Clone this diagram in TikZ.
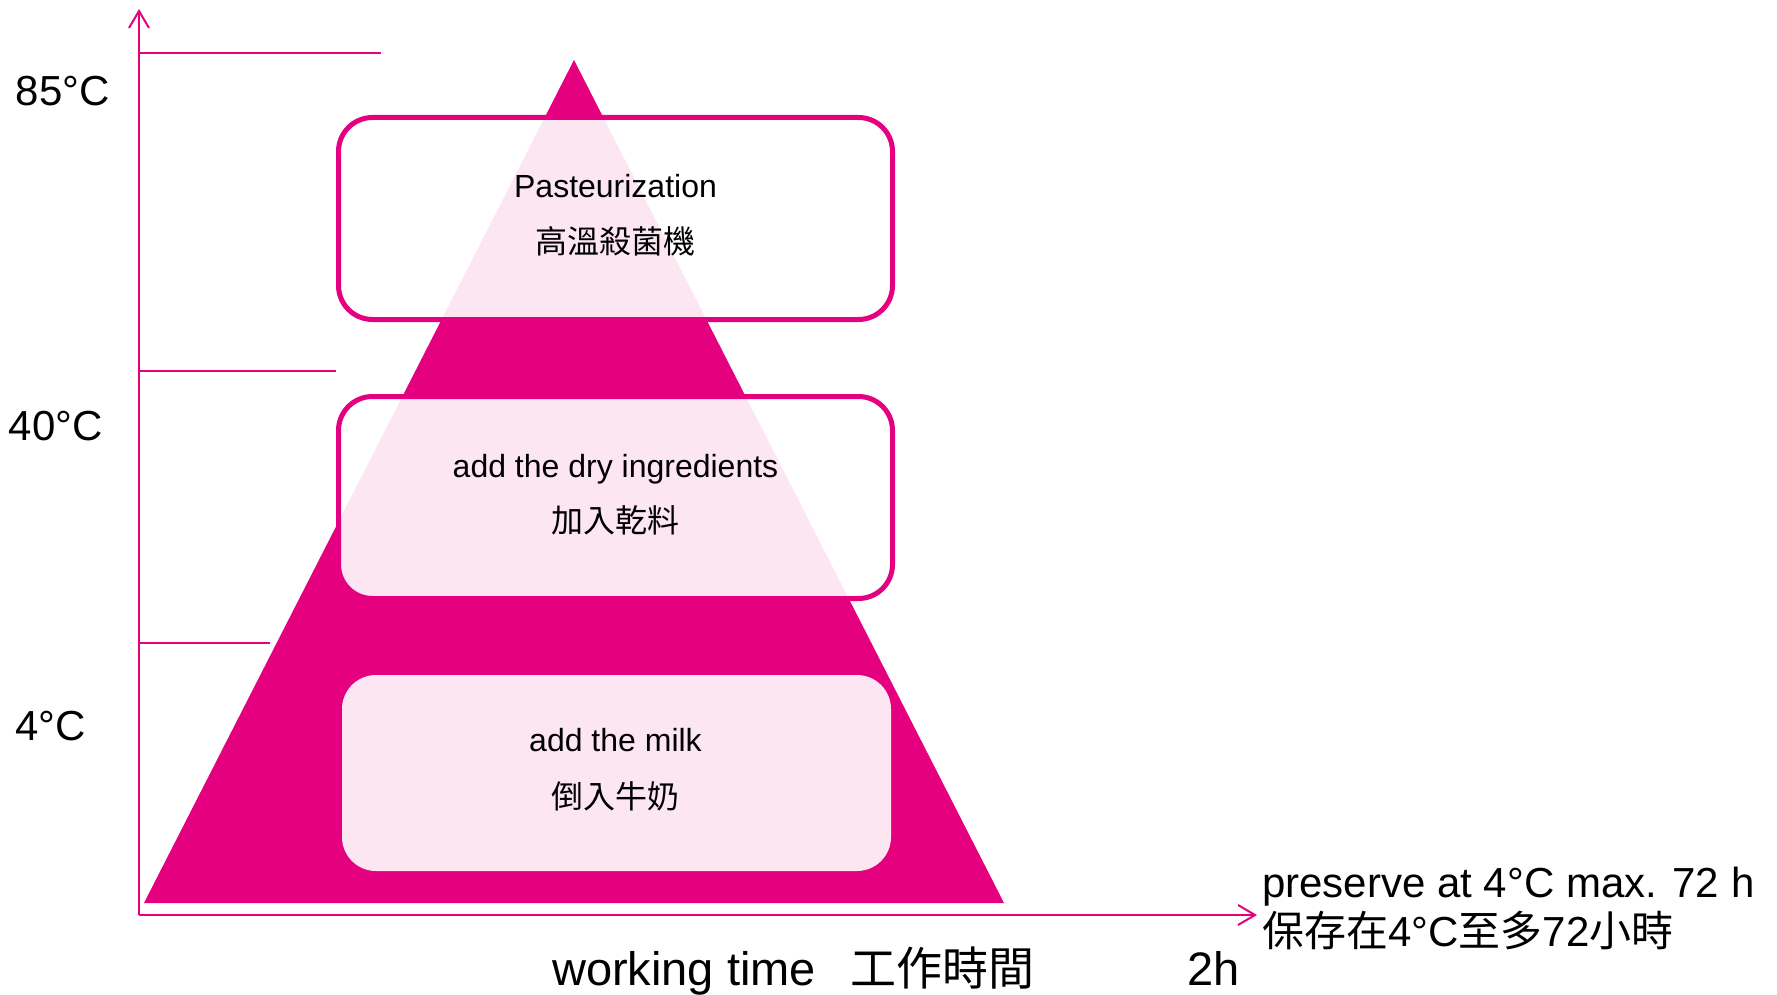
\documentclass[tikz,border=0pt]{standalone}
\usepackage{fontspec}
\setmainfont{Liberation Sans}
\newfontfamily\cjk{Noto Sans CJK TC}
\usetikzlibrary{arrows.meta}
\definecolor{mag}{HTML}{E4007F}
\tikzset{
  axisline/.style={draw=mag, line width=2pt},
  tickline/.style={draw=mag, line width=2pt},
  stagebox/.style={draw=mag, line width=5pt, fill=white, fill opacity=0.9, rounded corners=34pt, inner sep=0pt, outer sep=0pt},
  innerbox/.style={fill=white, fill opacity=0.9, rounded corners=34pt, inner sep=0pt, outer sep=0pt},
  txt/.style={inner sep=0pt, outer sep=0pt, anchor=base, text=black},
  lbl/.style={inner sep=0pt, outer sep=0pt, anchor=base west, text=black, font=\fontsize{42}{50}\selectfont},
}
\begin{document}
\begin{tikzpicture}[x=1pt, y=-1pt]
\useasboundingbox (0,0) rectangle (1777,995);
% axes
\coordinate (O) at (139,915);
\coordinate (Ytop) at (139,9);
\coordinate (Xend) at (1257,915);
\draw[axisline, -{Straight Barb[length=17pt,width=20pt]}] (O) -- (Ytop);
\draw[axisline, -{Straight Barb[length=17pt,width=20pt]}] (O) -- (Xend);
% ticks
\coordinate (a85) at (139,53);  \coordinate (e85) at (381,53);
\coordinate (a40) at (139,371); \coordinate (e40) at (336,371);
\coordinate (a4)  at (139,643); \coordinate (e4)  at (270,643);
\draw[tickline] (a85) -- (e85);
\draw[tickline] (a40) -- (e40);
\draw[tickline] (a4) -- (e4);
% temperature labels
\node[lbl] (l85) at (16,106) {85°C};
\node[lbl] (l40) at (9,440) {40°C};
\node[lbl] (l4) at (15,740) {4°C};
% triangle
\fill[mag] (574,60) -- (144,903) -- (1004,903) -- cycle;
% boxes
\node[stagebox, minimum width=554pt, minimum height=202pt] (b1) at (615.5,218.5) {};
\node[stagebox, minimum width=554pt, minimum height=202pt] (b2) at (615.5,497.5) {};
\node[innerbox, minimum width=549pt, minimum height=196pt] (b3) at (616.5,773) {};
% box texts
\node[txt, font=\fontsize{32}{38}\selectfont] (t1a) at (615.5,198) {Pasteurization};
\node[txt, font=\fontsize{32}{38}\selectfont\cjk] (t1b) at (615.5,253) {高溫殺菌機};
\node[txt, font=\fontsize{32}{38}\selectfont] (t2a) at (615.5,477) {add the dry ingredients};
\node[txt, font=\fontsize{32}{38}\selectfont\cjk] (t2b) at (615.5,532) {加入乾料};
\node[txt, font=\fontsize{32}{38}\selectfont] (t3a) at (615.5,751) {add the milk};
\node[txt, font=\fontsize{32}{38}\selectfont\cjk] (t3b) at (615.5,808) {倒入牛奶};
% bottom labels
\node[inner sep=0pt, anchor=base west, font=\fontsize{47}{56}\selectfont] (wt) at (552,985) {working time};
\node[inner sep=0pt, anchor=base west, font=\fontsize{46}{56}\selectfont\cjk] (wtc) at (850,985) {工作時間};
\node[inner sep=0pt, anchor=base west, font=\fontsize{47}{56}\selectfont] (two) at (1187,985) {2h};
\node[inner sep=0pt, anchor=base west, font=\fontsize{42}{50}\selectfont] (pres) at (1262,897) {preserve at 4°C max. 72 h};
\node[inner sep=0pt, anchor=base west, font=\fontsize{42}{50}\selectfont] (presc) at (1262,946) {{\cjk 保存在}4°C{\cjk 至多}72{\cjk 小時}};
\end{tikzpicture}
\end{document}
